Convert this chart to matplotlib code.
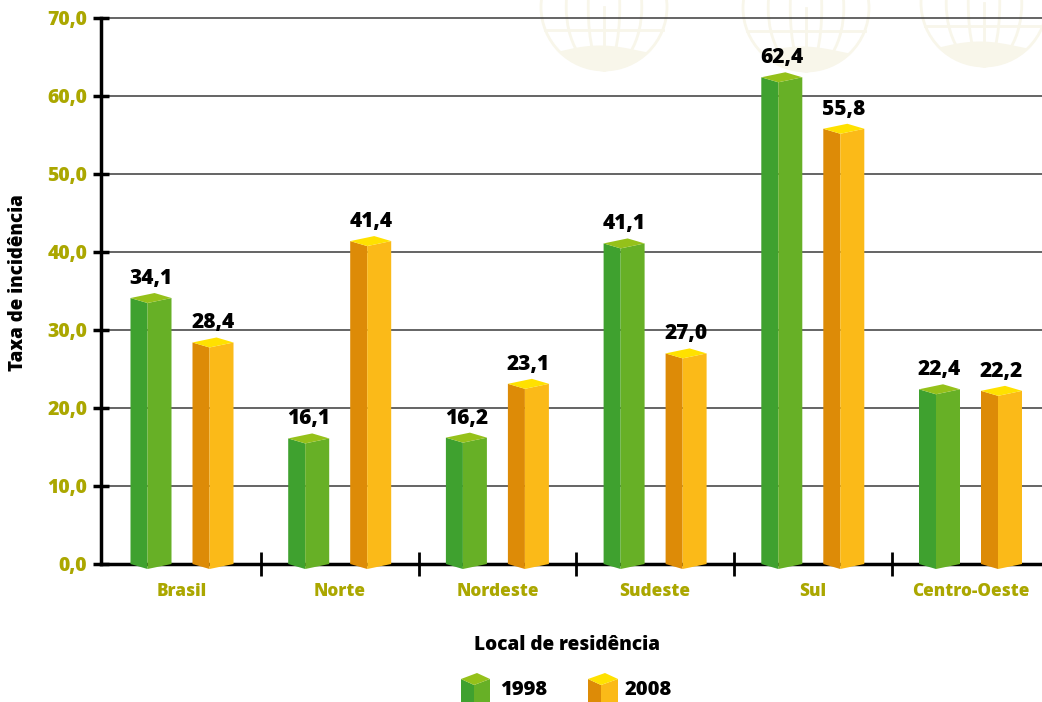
import numpy as np
import matplotlib.pyplot as plt
from matplotlib.patches import Polygon, Ellipse, Circle

plt.rcParams['font.family'] = ['Open Sans', 'DejaVu Sans']
plt.rcParams['font.weight'] = 'extra bold'
FW = 'extra bold'

regions = ['Brasil', 'Norte', 'Nordeste', 'Sudeste', 'Sul', 'Centro-Oeste']
rate_1998 = [34.1, 16.1, 16.2, 41.1, 62.4, 22.4]
rate_2008 = [28.4, 41.4, 23.1, 27.0, 55.8, 22.2]
yticks = [0, 10, 20, 30, 40, 50, 60, 70]

OLIVE = '#ABA700'
GREEN = ('#3FA12F', '#67B026', '#95C11A')   # left face, right face, top
ORANGE = ('#DD8B07', '#FBBA18', '#FFE100')

W, H = 1042, 702
fig = plt.figure(figsize=(W / 100, H / 100), dpi=100)

# background layer in pixel coordinates (watermark + legend)
bg = fig.add_axes([0, 0, 1, 1], zorder=0)
bg.set_xlim(0, W)
bg.set_ylim(H, 0)
bg.axis('off')

wm = '#F8F6EA'
for cx, cy, r in [(604, 7, 63), (806, 8, 63), (984, 3, 63)]:
    t = np.linspace(0, np.pi, 100)
    # land mass along the lower rim
    land_x = cx + r * np.cos(t)
    land_y = cy + r * np.sin(t)
    bumps = cy + 42 + 4 * np.sin(np.linspace(0, 9, 100))
    mask = land_y > bumps
    bg.fill_between(land_x[mask], bumps[mask], land_y[mask], color=wm, lw=0)
    bg.add_patch(Circle((cx, cy), r, fill=False, ec=wm, lw=2))
    for k in [0.25, 0.6]:
        bg.add_patch(Ellipse((cx, cy), 2 * r * k, 2 * r, fill=False, ec=wm, lw=2))
    bg.plot([cx, cx], [cy, cy + r], color=wm, lw=2)
    bg.plot([cx - r * 0.93, cx + r * 0.93], [cy + 23, cy + 23], color=wm, lw=2)


def prism(ax, x0, xm, x1, base, top, dy, cols, zorder=3):
    back = x0 + x1 - xm
    ax.add_patch(Polygon([(x0, base), (xm, base - dy), (xm, top - dy), (x0, top)],
                         closed=True, fc=cols[0], ec='none', zorder=zorder, clip_on=False))
    ax.add_patch(Polygon([(xm, base - dy), (x1, base), (x1, top), (xm, top - dy)],
                         closed=True, fc=cols[1], ec='none', zorder=zorder, clip_on=False))
    ax.add_patch(Polygon([(x0, top), (xm, top - dy), (x1, top), (back, top + dy)],
                         closed=True, fc=cols[2], ec='none', zorder=zorder, clip_on=False))


# legend cubes
prism(bg, 461, 474, 490, 710, 679, -6, GREEN)
bg.text(500, 690, '1998', fontsize=14.5, fontweight=FW, va='center', ha='left')
prism(bg, 588, 601, 618, 710, 679, -6, ORANGE)
bg.text(625, 690, '2008', fontsize=14.5, fontweight=FW, va='center', ha='left')

# main chart: group centres at 182 px and 970.5 px
y_bot, y_top = 564, 18
px_x = (970.5 - 182) / 5            # pixels per group
x0_px = 182 - 0.5 * px_x
x_left = 101
n = len(regions)
x_right = x0_px + n * px_x
ax = fig.add_axes([x_left / W, (H - y_bot) / H, (x_right - x_left) / W, (y_bot - y_top) / H],
                  zorder=1)
ax.patch.set_alpha(0)
ax.set_xlim(-(x0_px - x_left) / px_x, n)
ax.set_ylim(0, 70)

px_y = (y_bot - y_top) / 70         # pixels per unit

for yv in yticks[1:]:
    ax.axhline(yv, color='#3A3A3A', lw=1.1, zorder=1, clip_on=False)

bar_w = 41 / px_x
face = 17 / px_x
off = 31 / px_x
dy = 5 / px_y
centers = np.arange(n) + 0.5
for i, c in enumerate(centers):
    for val, sgn, cols in [(rate_1998[i], -1, GREEN), (rate_2008[i], 1, ORANGE)]:
        x0 = c + sgn * off - bar_w / 2
        prism(ax, x0, x0 + face, x0 + bar_w, 0, val, dy, cols)
        ax.annotate(f'{val:.1f}'.replace('.', ','), (c + sgn * off, val),
                    xytext=(0, 9), textcoords='offset pixels', ha='center', va='bottom',
                    fontsize=15, fontweight=FW, zorder=5)

for s in ['top', 'right']:
    ax.spines[s].set_visible(False)
ax.spines['left'].set_linewidth(2.5)
ax.spines['bottom'].set_linewidth(2.5)
ax.spines['bottom'].set_zorder(2)

ax.set_yticks(yticks)
ax.set_yticklabels([f'{v:.1f}'.replace('.', ',') for v in yticks],
                   color=OLIVE, fontsize=14, fontweight=FW)
ax.tick_params(axis='y', direction='inout', length=12, width=2.5, pad=4)

ax.set_xticks(np.arange(1, n))
ax.set_xticklabels([])
ax.tick_params(axis='x', direction='inout', length=17, width=2, pad=4)
for c, name in zip(centers, regions):
    ax.annotate(name, (c, 0), xytext=(0, -27), textcoords='offset pixels',
                ha='center', va='center', color=OLIVE, fontsize=12.3, fontweight=FW)

fig.text(18 / W, 1 - 283 / H, 'Taxa de incidência', rotation=90, ha='center', va='center',
         fontsize=13.5, fontweight=FW)
fig.text(567 / W, 1 - 645 / H, 'Local de residência', ha='center', va='center',
         fontsize=13.7, fontweight=FW)

fig.savefig('out.png', dpi=100)
